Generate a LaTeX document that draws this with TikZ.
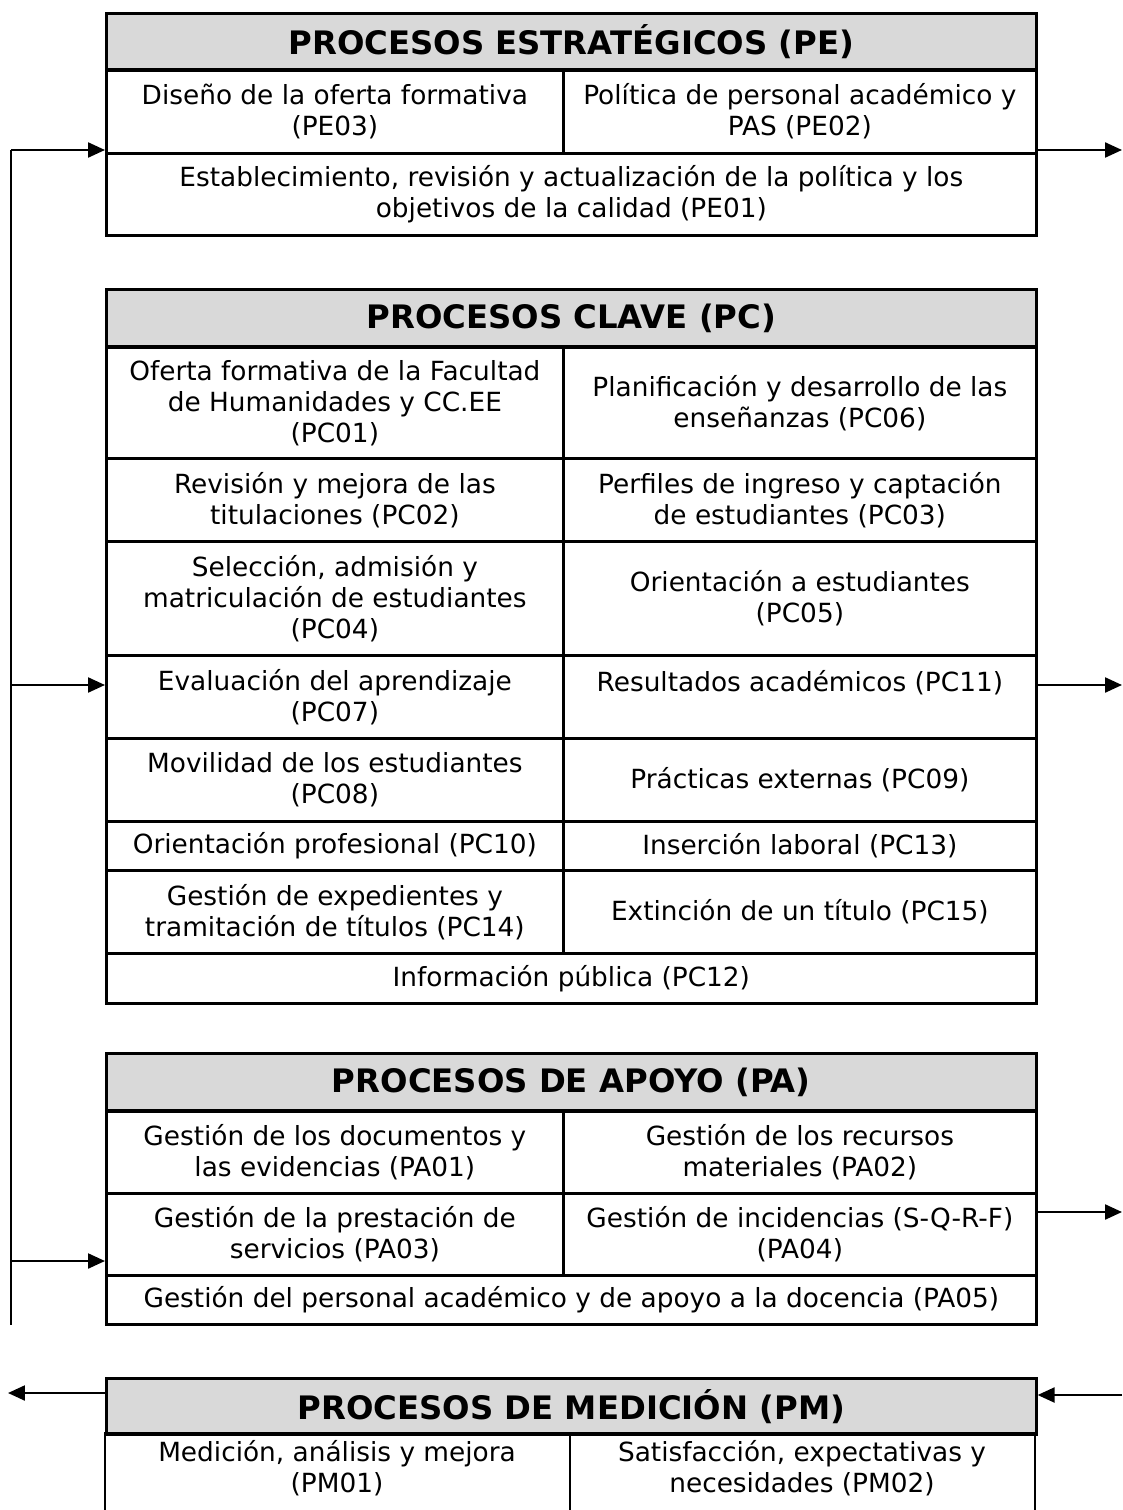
\documentclass[tikz,border=0pt]{standalone}
\usepackage{fontspec}
\setmainfont{DejaVu Sans}
\usetikzlibrary{arrows.meta,positioning}
\definecolor{headgray}{RGB}{217,217,217}
\tikzset{
  cell/.style={draw, line width=1.6pt, anchor=north west, inner sep=0pt, align=center,
    font=\fontsize{15}{17.6}\selectfont},
  head/.style={cell, fill=headgray, minimum width=18.6cm, minimum height=1.14cm,
    font=\fontsize{18.4}{21}\selectfont\bfseries},
  full/.style={cell, minimum width=18.6cm},
  lcell/.style={cell, minimum width=9.14cm},
  rcell/.style={cell, minimum width=9.46cm},
  arr/.style={line width=1.3pt, -{Triangle[length=0.34cm,width=0.3cm]}},
}
\begin{document}
\begin{tikzpicture}[x=0.02cm, y=-0.02cm]
  \useasboundingbox (0,0) rectangle (1122,1510);
  \clip (0,0) rectangle (1122,1510);

  % Procesos estrategicos
  \node[head] (pe) at (105,12) {PROCESOS ESTRATÉGICOS (PE)};
  \node[lcell, minimum height=1.68cm] (pe03) at (105,68) {Diseño de la oferta formativa\\(PE03)};
  \node[rcell, minimum height=1.68cm] (pe02) at (562,68) {Política de personal académico y\\PAS (PE02)};
  \node[full, minimum height=1.64cm] (pe01) at (105,152) {Establecimiento, revisión y actualización de la política y los\\objetivos de la calidad (PE01)};

  % Procesos clave
  \node[head] (pc) at (105,288) {PROCESOS CLAVE (PC)};
  \node[lcell, minimum height=2.22cm] (pc01) at (105,346) {Oferta formativa de la Facultad\\de Humanidades y CC.EE\\(PC01)};
  \node[rcell, minimum height=2.22cm] (pc06) at (562,346) {Planificación y desarrollo de las\\enseñanzas (PC06)};
  \node[lcell, minimum height=1.66cm] (pc02) at (105,457) {Revisión y mejora de las\\titulaciones (PC02)};
  \node[rcell, minimum height=1.66cm] (pc03) at (562,457) {Perfiles de ingreso y captación\\de estudiantes (PC03)};
  \node[lcell, minimum height=2.28cm] (pc04) at (105,540) {Selección, admisión y\\matriculación de estudiantes\\(PC04)};
  \node[rcell, minimum height=2.28cm] (pc05) at (562,540) {Orientación a estudiantes\\(PC05)};
  \node[lcell, minimum height=1.66cm] (pc07) at (105,654) {Evaluación del aprendizaje\\(PC07)};
  \node[rcell, minimum height=1.66cm] (pc11) at (562,654) {Resultados académicos (PC11)\\~};
  \node[lcell, minimum height=1.66cm] (pc08) at (105,737) {Movilidad de los estudiantes\\(PC08)};
  \node[rcell, minimum height=1.66cm] (pc09) at (562,737) {Prácticas externas (PC09)};
  \node[lcell, minimum height=0.98cm] (pc10) at (105,820) {Orientación profesional (PC10)};
  \node[rcell, minimum height=0.98cm] (pc13) at (562,820) {Inserción laboral (PC13)};
  \node[lcell, minimum height=1.66cm] (pc14) at (105,869) {Gestión de expedientes y\\tramitación de títulos (PC14)};
  \node[rcell, minimum height=1.66cm] (pc15) at (562,869) {Extinción de un título (PC15)};
  \node[full, minimum height=1.0cm] (pc12) at (105,952) {Información pública (PC12)};

  % Procesos de apoyo
  \node[head] (pa) at (105,1052) {PROCESOS DE APOYO (PA)};
  \node[lcell, minimum height=1.64cm] (pa01) at (105,1110) {Gestión de los documentos y\\las evidencias (PA01)};
  \node[rcell, minimum height=1.64cm] (pa02) at (562,1110) {Gestión de los recursos\\materiales (PA02)};
  \node[lcell, minimum height=1.64cm] (pa03) at (105,1192) {Gestión de la prestación de\\servicios (PA03)};
  \node[rcell, minimum height=1.64cm] (pa04) at (562,1192) {Gestión de incidencias (S-Q-R-F)\\(PA04)};
  \node[full, minimum height=0.98cm] (pa05) at (105,1274) {Gestión del personal académico y de apoyo a la docencia (PA05)};

  % Procesos de medicion (cut off at the bottom)
  \node[head, minimum height=1.12cm] (pm) at (105,1377) {PROCESOS DE MEDICIÓN (PM)};
  \draw[line width=1.6pt] (105,1433) rectangle (570,1540) (570,1433) rectangle (1035,1540);
  \node[font=\fontsize{15}{17.6}\selectfont, align=center] (pm01) at (337,1468) {Medición, análisis y mejora\\(PM01)};
  \node[font=\fontsize{15}{17.6}\selectfont, align=center] (pm02) at (802,1468) {Satisfacción, expectativas y\\necesidades (PM02)};

  % Feedback line on the left
  \coordinate (lt) at (11,150);
  \coordinate (lc) at (11,685);
  \coordinate (la) at (11,1261);
  \coordinate (lb) at (11,1325);
  \draw[line width=1.3pt] (lt) -- (lb);
  \draw[arr] (lt) -- (lt -| pe01.west);
  \draw[arr] (lc) -- (lc -| pc07.west);
  \draw[arr] (la) -- (la -| pa03.west);

  % Outputs on the right
  \coordinate (rt) at (1122,150);
  \coordinate (rc) at (1122,685);
  \coordinate (ra) at (1122,1212);
  \draw[arr] (rt -| pe02.east) -- (rt);
  \draw[arr] (rc -| pc11.east) -- (rc);
  \draw[arr] (ra -| pa04.east) -- (ra);

  % Measurement in and out
  \coordinate (rm) at (1122,1395);
  \coordinate (lm) at (8,1393);
  \draw[arr] (rm) -- (rm -| pm.east);
  \draw[arr] (lm -| pm.west) -- (lm);
\end{tikzpicture}
\end{document}
